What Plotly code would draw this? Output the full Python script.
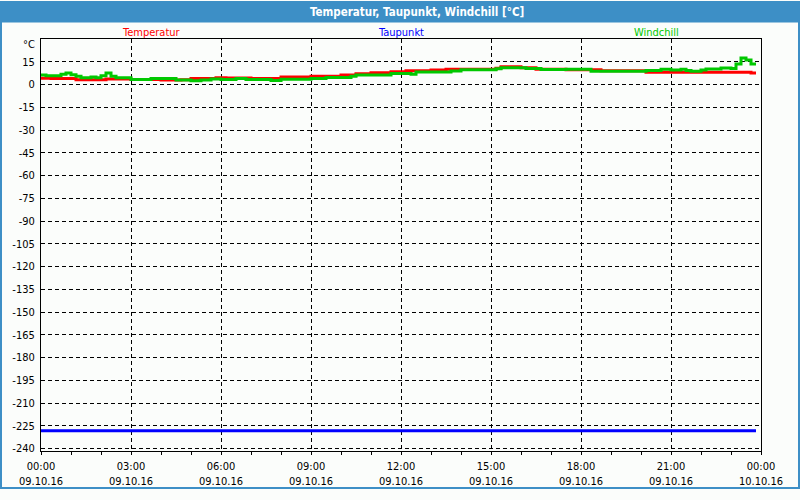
import pandas as pd
import plotly.graph_objects as go

DAY = "2016-10-09"

temp_times = ["00:00", "00:20", "01:10", "02:10", "03:00", "04:00", "04:40", "05:00",
              "05:50", "06:10", "07:00", "08:00", "09:00", "10:00", "10:30", "11:00",
              "11:40", "12:10", "13:00", "13:30", "15:10", "15:20", "16:00", "16:30",
              "17:30", "18:40", "20:10", "23:40", "23:50"]
temp_values = [4.2, 3.9, 3.2, 3.7, 3.3, 2.9, 3.2, 3.9,
               4.5, 4.3, 4.0, 4.9, 5.5, 6.2, 7.1, 7.7,
               8.4, 9.0, 9.5, 10.1, 10.8, 11.7, 11.0, 10.0,
               9.7, 9.0, 8.0, 7.6, 7.6]

wind_times = ["00:00", "00:10", "00:40", "00:50", "01:00", "01:10", "01:20", "01:40",
              "01:50", "02:00", "02:10", "02:20", "02:30", "03:00", "03:40", "04:30",
              "05:00", "05:20", "05:40", "06:00", "06:30", "06:50", "07:40", "08:00",
              "09:00", "09:30", "10:20", "10:30", "11:40", "12:20", "12:30", "13:40",
              "14:00", "15:10", "15:20", "16:10", "16:40", "17:30", "18:20", "20:10",
              "20:40", "21:00", "21:20", "21:30", "21:40", "22:00", "22:10", "22:40",
              "23:00", "23:10", "23:20", "23:30", "23:40", "23:50"]
wind_values = [6.2, 5.7, 6.8, 7.6, 6.5, 5.5, 4.4, 5.0,
               4.4, 5.8, 7.6, 5.5, 4.5, 3.3, 3.9, 3.0,
               2.5, 3.0, 3.6, 3.3, 4.0, 3.3, 2.7, 3.5,
               4.0, 4.6, 5.5, 6.2, 7.3, 6.8, 8.2, 8.9,
               9.7, 10.4, 11.0, 10.6, 9.9, 10.0, 8.7, 9.3,
               10.0, 9.6, 10.0, 9.3, 8.7, 9.6, 10.2, 10.9,
               10.5, 13.5, 17.4, 16.1, 13.5, 13.5]

dew_times = ["00:00", "23:50"]
dew_values = [-228.3, -228.3]

x_tick_times = ["2016-10-09 00:00", "2016-10-09 03:00", "2016-10-09 06:00", "2016-10-09 09:00",
                "2016-10-09 12:00", "2016-10-09 15:00", "2016-10-09 18:00", "2016-10-09 21:00",
                "2016-10-10 00:00"]
x_tick_labels = ["00:00<br>09.10.16", "03:00<br>09.10.16", "06:00<br>09.10.16",
                 "09:00<br>09.10.16", "12:00<br>09.10.16", "15:00<br>09.10.16",
                 "18:00<br>09.10.16", "21:00<br>09.10.16", "00:00<br>10.10.16"]
y_tick_vals = [30, 15, 0, -15, -30, -45, -60, -75, -90, -105, -120, -135, -150,
               -165, -180, -195, -210, -225, -240]
y_tick_labels = [""] + [str(v) for v in y_tick_vals[1:]]
y_unit = "°C"

series_names = ["Temperatur", "Taupunkt", "Windchill"]
RED, BLUE, GREEN = "#ff0000", "#0000ff", "#00c800"


def ts(times):
    return pd.to_datetime([f"{DAY} {t}" for t in times])


FONT = "DejaVu Sans Condensed, Liberation Sans, sans-serif"
BG = "#fbfdfb"
FRAME = "#3d8fc6"

fig = go.Figure()
fig.add_trace(go.Scatter(x=ts(dew_times), y=dew_values, mode="lines", line=dict(color=BLUE, width=3, shape="hv"), name=series_names[1]))
fig.add_trace(go.Scatter(x=ts(temp_times), y=temp_values, mode="lines", line=dict(color=RED, width=3, shape="hv"), name=series_names[0]))
fig.add_trace(go.Scatter(x=ts(wind_times), y=wind_values, mode="lines", line=dict(color=GREEN, width=3, shape="hv"), name=series_names[2]))

W, H = 800, 500
L, R, T, B = 41, 39, 39, 39
pw, ph = W - L - R, H - T - B


def px(x):
    return (x - L) / pw


def py(y):
    return (H - B - y) / ph


shapes = [
    dict(type="rect", xref="paper", yref="paper", x0=px(0), x1=px(W), y0=py(22), y1=py(0),
         fillcolor=FRAME, line=dict(width=0), layer="below"),
    dict(type="rect", xref="paper", yref="paper", x0=px(0), x1=px(2), y0=py(H), y1=py(0),
         fillcolor=FRAME, line=dict(width=0), layer="below"),
    dict(type="rect", xref="paper", yref="paper", x0=px(W - 2), x1=px(W), y0=py(H), y1=py(0),
         fillcolor=FRAME, line=dict(width=0), layer="below"),
    dict(type="rect", xref="paper", yref="paper", x0=px(0), x1=px(W), y0=py(H), y1=py(H - 2),
         fillcolor=FRAME, line=dict(width=0), layer="below"),
]

annotations = [
    dict(text="<b>Temperatur, Taupunkt, Windchill [°C]</b>", xref="paper", yref="paper",
         x=px(417), y=py(11), showarrow=False, xanchor="center", yanchor="middle",
         font=dict(family=FONT, size=11.5, color="white")),
    dict(text=series_names[0], xref="paper", yref="paper", x=px(120), y=py(32), showarrow=False,
         xanchor="left", yanchor="middle", font=dict(family=FONT, size=11, color=RED)),
    dict(text=series_names[1], xref="paper", yref="paper", x=px(376), y=py(32), showarrow=False,
         xanchor="left", yanchor="middle", font=dict(family=FONT, size=11, color=BLUE)),
    dict(text=series_names[2], xref="paper", yref="paper", x=px(632), y=py(32), showarrow=False,
         xanchor="left", yanchor="middle", font=dict(family=FONT, size=11, color=GREEN)),
    dict(text=y_unit, xref="paper", yref="paper", x=px(37), y=py(45), showarrow=False,
         xanchor="right", yanchor="middle", font=dict(family=FONT, size=11, color="black")),
]

fig.update_layout(
    width=W, height=H, autosize=False,
    margin=dict(l=L, r=R, t=T, b=B, pad=0),
    paper_bgcolor=BG, plot_bgcolor=BG,
    showlegend=False,
    shapes=shapes, annotations=annotations,
    font=dict(family=FONT, size=11, color="black"),
)
fig.update_xaxes(
    type="date", range=["2016-10-09 00:00", "2016-10-10 00:00"],
    tickmode="array", tickvals=x_tick_times, ticktext=x_tick_labels,
    showgrid=True, gridcolor="black", gridwidth=1, griddash="4px,3px",
    showline=True, linecolor="black", linewidth=1, mirror=True,
    ticks="outside", ticklen=3, tickcolor="black", ticklabelstandoff=2,
    minor=dict(dtick=3600000, ticks="outside", ticklen=3, tickcolor="black", showgrid=False),
    zeroline=False, tickfont=dict(family=FONT, size=11, color="black"),
)
fig.update_yaxes(
    range=[-241.6, 30], tickmode="array", tickvals=y_tick_vals, ticktext=y_tick_labels,
    showgrid=True, gridcolor="black", gridwidth=1, griddash="4px,3px",
    showline=True, linecolor="black", linewidth=1, mirror=True,
    ticks="outside", ticklen=3, tickcolor=BG,
    zeroline=False, tickfont=dict(family=FONT, size=11, color="black"),
)

fig.write_html(
    "out.html",
    config={"responsive": False, "displayModeBar": False},
    post_script="document.body.style.margin='0';document.body.style.overflow='hidden';document.body.style.background='" + BG + "';",
)
